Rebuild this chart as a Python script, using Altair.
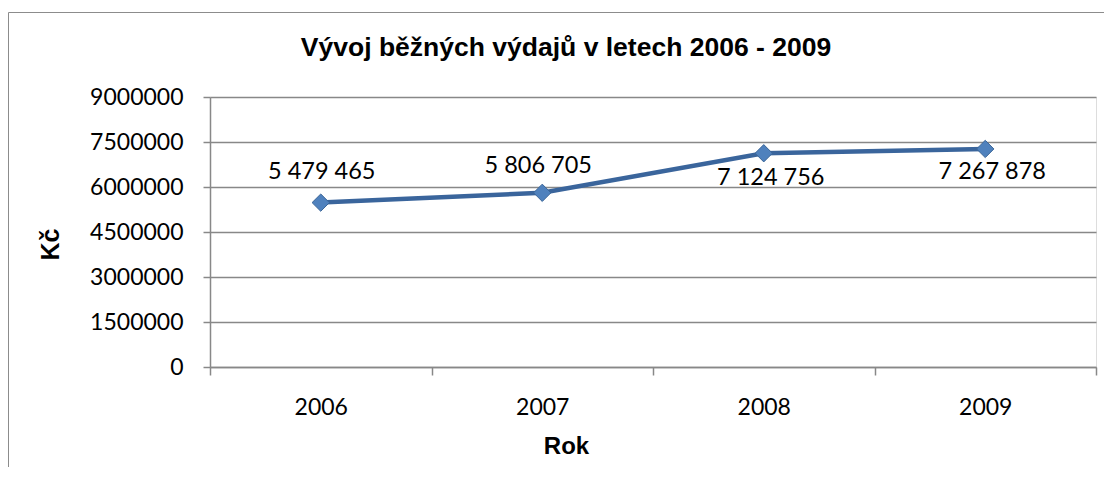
import altair as alt
import pandas as pd

years = ["2006", "2007", "2008", "2009"]
values = [5479465, 5806705, 7124756, 7267878]
y_ticks = [0, 1500000, 3000000, 4500000, 6000000, 7500000, 9000000]
labels = [f"{v:,}".replace(",", " ") for v in values]

df = pd.DataFrame({"Rok": years, "Kc": values, "label": labels})

LBL_FONT = "Lato"
TTL_FONT = "Liberation Sans"
GRID = "#888888"

base = alt.Chart(df).encode(
    x=alt.X(
        "Rok:O",
        sort=years,
        scale=alt.Scale(type="band", paddingInner=0, paddingOuter=0),
        axis=alt.Axis(
            title="Rok",
            labelAngle=0,
            tickBand="extent",
            grid=False,
            labelFont=LBL_FONT,
            labelFontSize=23,
            labelColor="black",
            labelPadding=21,
            tickSize=8,
            tickColor=GRID,
            tickWidth=1.5,
            domainColor=GRID,
            domainWidth=1.5,
            titleFont=TTL_FONT,
            titleFontSize=24,
            titleFontWeight="bold",
            titleColor="black",
            titleX=356,
            titleY=86,
            titleAlign="center",
            titleBaseline="alphabetic",
        ),
    ),
    y=alt.Y(
        "Kc:Q",
        scale=alt.Scale(domain=[0, 9000000], nice=False),
        axis=alt.Axis(
            title="Kč",
            values=y_ticks,
            format="d",
            grid=True,
            gridColor=GRID,
            gridWidth=1.5,
            labelFont=LBL_FONT,
            labelFontSize=23,
            labelColor="black",
            labelPadding=20,
            tickSize=7,
            tickColor=GRID,
            tickWidth=1.5,
            domainColor=GRID,
            domainWidth=1.5,
            titleFont=TTL_FONT,
            titleFontSize=25,
            titleFontWeight="bold",
            titleColor="black",
            titleAngle=270,
            titleX=-152,
            titleY=147,
            titleAlign="center",
            titleBaseline="alphabetic",
        ),
    ),
)

line = base.mark_line(color="#3A659C", strokeWidth=4.5)
points = base.mark_point(
    shape="diamond", filled=True, size=300, fill="#4F81BD",
    stroke="#3B6698", strokeWidth=1, opacity=1,
)

def lab(year, dx, dy):
    return base.mark_text(
        font=LBL_FONT, fontSize=23.5, color="black", baseline="alphabetic",
        align="center", dx=dx, dy=dy,
    ).encode(text="label:N").transform_filter(alt.datum.Rok == year)

text_layers = [
    lab("2006", 1, -24),
    lab("2007", -4, -20),
    lab("2008", 7, 32),
    lab("2009", 7, 30),
]

frame = alt.Chart(pd.DataFrame({"f": [0]})).mark_rect(
    filled=False, stroke="#8C8C8C", strokeWidth=1
).encode(
    x=alt.value(-201.5), x2=alt.value(1000),
    y=alt.value(-84.5), y2=alt.value(600),
)

chart = alt.layer(frame, line, points, *text_layers).properties(
    width=886,
    height=270,
    title=alt.TitleParams(
        text="Vývoj běžných výdajů v letech 2006 - 2009",
        font=TTL_FONT,
        fontSize=26.5,
        fontWeight="bold",
        color="black",
        anchor="middle",
        dx=-87,
        dy=70.5,
        baseline="alphabetic",
        offset=0,
    ),
    autosize=alt.AutoSizeParams(type="none"),
    padding={"left": 202, "top": 89, "right": 8, "bottom": 100},
).configure_view(fill="#D9D9D9", stroke="transparent").configure(background="white")

chart.save("out.html", embed_options={"renderer": "svg", "actions": False})
